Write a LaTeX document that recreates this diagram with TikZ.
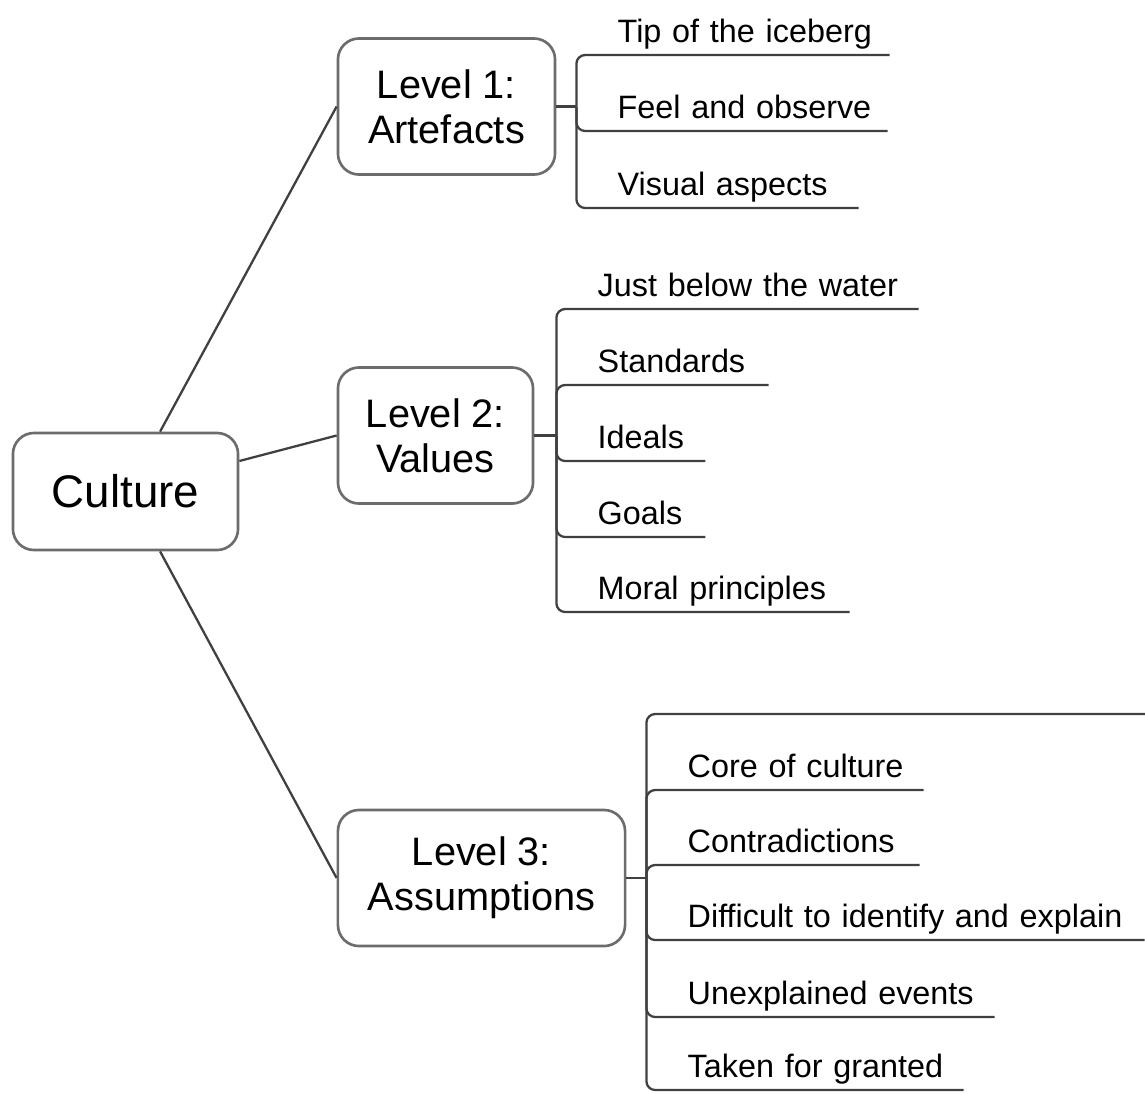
\documentclass[tikz,border=0pt]{standalone}
\usepackage{fontspec}
\setmainfont{Liberation Sans}
\usetikzlibrary{positioning}

\begin{document}
\begin{tikzpicture}[
        x=0.01cm, y=-0.01cm,
        topic/.style={rectangle, draw=gray!85!black, line width=0.75pt, rounded corners=6pt, fill=white, align=center, inner sep=0pt},
        level/.style={topic, font=\fontsize{11.3}{12.8}\selectfont, minimum height=1.36cm},
        leaf/.style={anchor=south west, inner xsep=0pt, inner ysep=0.12cm, text depth=0pt, text width=#1, align=left, font=\fontsize{9.2}{11}\selectfont},
        link/.style={draw=black!75, line width=0.65pt},
        branch/.style={link, rounded corners=2.5pt}
    ]
        \useasboundingbox (0,0) rectangle (1145,1093);

        % Root
        \node[topic, font=\fontsize{13}{16}\selectfont, minimum width=2.25cm, minimum height=1.17cm] (culture) at (125.5,491.5) {Culture};

        % Levels
        \node[level, minimum width=2.17cm] (l1) at (446.5,106.5) {Level 1:\\Artefacts};
        \node[level, minimum width=1.95cm] (l2) at (435.5,435.5) {Level 2:\\Values};
        \node[level, minimum width=2.87cm] (l3) at (481.5,878) {Level 3:\\Assumptions};

        % Junctions
        \coordinate[right=0.2cm of l1] (j1);
        \coordinate[right=0.22cm of l2] (j2);
        \coordinate[right=0.2cm of l3] (j3);

        % Level 1 leaves
        \node[leaf=2.71cm] (a1) at (617,55) {Tip of the iceberg};
        \node[leaf=2.69cm] (a2) at (617,131) {Feel and observe};
        \node[leaf=2.40cm] (a3) at (617,208) {Visual aspects};

        % Level 2 leaves
        \node[leaf=3.20cm] (v1) at (597,309) {Just below the water};
        \node[leaf=1.70cm] (v2) at (597,385) {Standards};
        \node[leaf=1.07cm] (v3) at (597,461) {Ideals};
        \node[leaf=1.07cm] (v4) at (597,537) {Goals};
        \node[leaf=2.51cm] (v5) at (597,612) {Moral principles};

        % Level 3 leaves
        \node[leaf=4.57cm] (s0) at (687,714) {};
        \node[leaf=2.35cm] (s1) at (687,790) {Core of culture};
        \node[leaf=2.31cm] (s2) at (687,865) {Contradictions};
        \node[leaf=4.56cm] (s3) at (687,940) {Difficult to identify and explain};
        \node[leaf=3.06cm] (s4) at (687,1017) {Unexplained events};
        \node[leaf=2.75cm] (s5) at (687,1090) {Taken for granted};

        % Root to levels
        \draw[link] (culture.60) -- (l1.west);
        \draw[link] (culture.15) -- (l2.west);
        \draw[link] (culture.-60) -- (l3.west);

        % Stubs
        \draw[link] (l1.east) -- (j1);
        \draw[link] (l2.east) -- (j2);
        \draw[link] (l3.east) -- (j3);

        % Branches
        \draw[branch] (j1) |- (a1.south west) -- (a1.south east);
        \draw[branch] (j1) |- (a2.south west) -- (a2.south east);
        \draw[branch] (j1) |- (a3.south west) -- (a3.south east);

        \draw[branch] (j2) |- (v1.south west) -- (v1.south east);
        \draw[branch] (j2) |- (v2.south west) -- (v2.south east);
        \draw[branch] (j2) |- (v3.south west) -- (v3.south east);
        \draw[branch] (j2) |- (v4.south west) -- (v4.south east);
        \draw[branch] (j2) |- (v5.south west) -- (v5.south east);

        \draw[branch] (j3) |- (s0.south west) -- (s0.south east);
        \draw[branch] (j3) |- (s1.south west) -- (s1.south east);
        \draw[branch] (j3) |- (s2.south west) -- (s2.south east);
        \draw[branch] (j3) |- (s3.south west) -- (s3.south east);
        \draw[branch] (j3) |- (s4.south west) -- (s4.south east);
        \draw[branch] (j3) |- (s5.south west) -- (s5.south east);
    \end{tikzpicture}
\end{document}
